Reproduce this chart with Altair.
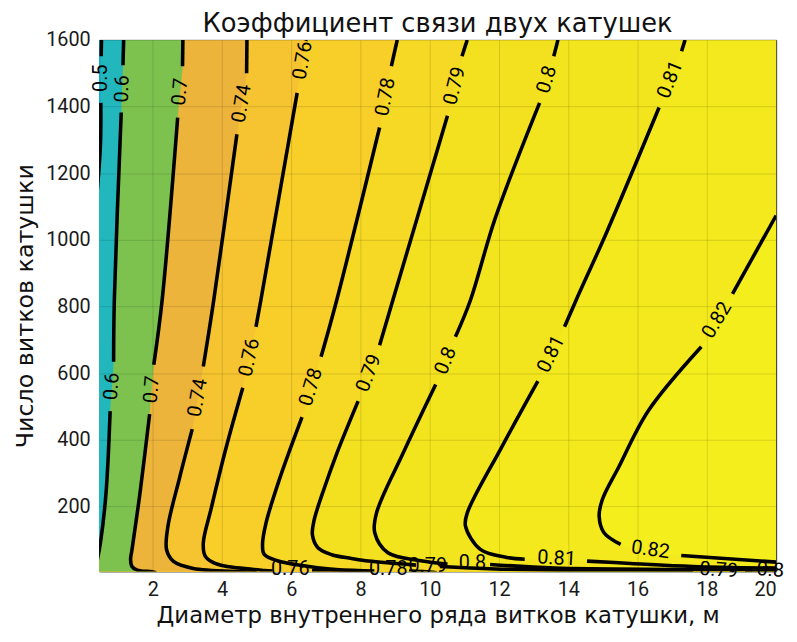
import altair as alt
import pandas as pd

# ---------------- data ----------------
TITLE = "Коэффициент связи двух катушек"
X_DOMAIN = [0.45, 20.0]
Y_DOMAIN = [5.0, 1600.0]
X_TICKS = [2, 4, 6, 8, 10, 12, 14, 16, 18, 20]
Y_TICKS = [200, 400, 600, 800, 1000, 1200, 1400, 1600]

# contour polylines, one list of segments per level (gaps = label places)
C050 = [[(0.52, 1600), (0.51, 1551)],
        [(0.50, 1411), (0.49, 1287), (0.40, 1150)]]
C060 = [[(1.16, 1600), (1.14, 1524)],
        [(1.09, 1382), (0.89, 818), (0.87, 634)],
        [(0.77, 486), (0.65, 239), (0.49, 91), (0.40, 40)]]
C070 = [[(2.87, 1600), (2.86, 1521)],
        [(2.72, 1367), (2.27, 818), (2.03, 625)],
        [(1.91, 477), (1.63, 239), (1.40, 70), (1.36, 41), (1.40, 20), (1.55, 9), (1.98, 4), (2.10, 1)]]
C074 = [[(4.72, 1600), (4.71, 1500)],
        [(4.43, 1317), (3.76, 818), (3.46, 620)],
        [(3.14, 432), (2.77, 284), (2.44, 141), (2.40, 70), (2.60, 35), (3.17, 14), (4.63, 4), (5.00, 1)]]
C076 = [[(6.43, 1600), (6.42, 1597)],
        [(6.17, 1441), (5.12, 818), (4.98, 739)],
        [(4.60, 556), (4.11, 373), (3.69, 195), (3.46, 91), (3.51, 52), (3.74, 32), (4.08, 21), (5.22, 8), (5.46, 6.5)],
        [(6.60, 7), (8.10, 5), (8.30, 1)]]
C078 = [[(9.06, 1600), (8.89, 1521)],
        [(8.55, 1337), (7.31, 818), (6.86, 649)],
        [(6.31, 468), (5.65, 279), (5.27, 150), (5.17, 86), (5.22, 56), (5.60, 37), (6.36, 22), (7.12, 12), (8.08, 7), (8.40, 6.5)],
        [(9.40, 6), (10.0, 3), (10.2, 1)]]
C079 = [[(11.08, 1600), (10.93, 1551)],
        [(10.51, 1372), (8.93, 818), (8.55, 684)],
        [(7.93, 516), (7.31, 358), (6.97, 260), (6.66, 159), (6.61, 115), (6.77, 76), (7.17, 55), (7.74, 44), (8.23, 36), (9.03, 29), (9.60, 24)],
        [(10.29, 20), (11.89, 12.5), (15.89, 6.5), (17.6, 6.5)],
        [(19.1, 6.5), (20.0, 6.5)]]
C080 = [[(13.70, 1600), (13.58, 1551)],
        [(13.17, 1411), (11.89, 1065), (11.17, 818), (10.74, 709)],
        [(10.17, 566), (9.22, 358), (8.46, 180), (8.41, 121), (8.79, 61), (9.74, 37), (10.51, 27)],
        [(11.74, 26), (13.6, 15), (17.0, 11), (19.3, 10)]]
C081 = [[(17.37, 1600), (17.27, 1566)],
        [(16.62, 1397), (15.12, 1026), (14.22, 818), (13.89, 739)],
        [(13.12, 576), (12.08, 379), (11.08, 180), (11.03, 141), (11.46, 71), (12.22, 47), (12.74, 41.5)],
        [(14.54, 36), (15.80, 29), (17.60, 20), (20.0, 15)]]
C082 = [[(20.0, 1073), (18.74, 838)],
        [(17.84, 679), (16.31, 487), (15.46, 319), (14.98, 220), (14.89, 170), (15.03, 121), (15.51, 86)],
        [(17.26, 53), (20.0, 33)]]

# where each contour enters / leaves the plot
LEVELS = [0.82, 0.81, 0.8, 0.79, 0.78, 0.76, 0.74, 0.7, 0.6, 0.5]
STARTS = ["right", "top", "top", "top", "top", "top", "top", "top", "top", "top"]
ENDS = ["right", "right", "right", "right", "bottom", "bottom", "bottom", "bottom", "left", "left"]
# colour of the band just below each level
BAND_COLORS = ["#F3E91C", "#F3E51D", "#F3E01F", "#F5D924", "#F8CE29",
               "#F6C430", "#EDB43C", "#7DC24F", "#22B6BD", "#1AA9C6"]
TOP_COLOR = "#F5EE1D"

# inline contour labels
LAB_LEVEL = [0.5, 0.6, 0.6, 0.7, 0.7, 0.74, 0.74, 0.76, 0.76, 0.76,
             0.78, 0.78, 0.78, 0.79, 0.79, 0.79, 0.79, 0.8, 0.8, 0.8, 0.8,
             0.81, 0.81, 0.81, 0.82, 0.82]
LAB_X = [0.50, 1.12, 0.82, 2.79, 1.97, 4.57, 3.30, 6.33, 4.79, 5.97,
         8.72, 6.57, 8.80, 10.72, 8.24, 9.94, 18.34, 13.38, 10.46, 11.23, 19.83,
         16.94, 13.50, 13.66, 18.29, 16.37]
LAB_Y = [1485, 1453, 560, 1444, 551, 1409, 526, 1538, 647, 13,
         1429, 558, 13, 1462, 600, 22, 9, 1481, 637, 30, 9,
         1481, 657, 44, 759, 70]
LAB_ANGLE = [270, 272, 274, 275, 275, 279, 280, 280, 282, 0,
             281, 287, 0, 284, 291, 0, 4, 287, 292, 0, 4,
             292, 296, 3, 301, 8]

CONTOURS = {0.5: C050, 0.6: C060, 0.7: C070, 0.74: C074, 0.76: C076,
            0.78: C078, 0.79: C079, 0.8: C080, 0.81: C081, 0.82: C082}

# ---------------- chart ----------------
W, H = 684, 537
# closing corners of the filled bands, just outside the plotted domain
XO_L, XO_R, YO_T, YO_B = 0.3, 20.2, 1615.0, 0.0

x_enc = alt.X("x:Q", scale=alt.Scale(domain=X_DOMAIN, nice=False, zero=False),
              axis=alt.Axis(values=X_TICKS, title="Диаметр внутреннего ряда витков катушки, м",
                            grid=True, ticks=False, tickSize=0, domain=False, zindex=1,
                            labelFont="Roboto", labelFontSize=20, labelColor="#1a1a1a",
                            labelPadding=8, titleFont="DejaVu Sans", titleFontSize=23,
                            titleFontWeight="normal", titleColor="#111",
                            titleY=52, titleBaseline="alphabetic", format="d",
                            gridColor="#000000", gridOpacity=0.13, gridWidth=1))
y_enc = alt.Y("y:Q", scale=alt.Scale(domain=Y_DOMAIN, nice=False, zero=False),
              axis=alt.Axis(values=Y_TICKS, title="Число витков катушки",
                            grid=True, ticks=False, tickSize=0, domain=False, zindex=1,
                            labelFont="Roboto", labelFontSize=20, labelColor="#1a1a1a",
                            labelPadding=9, titleFont="DejaVu Sans", titleFontSize=24,
                            titleFontWeight="normal", titleColor="#111",
                            titleX=-67, titleBaseline="alphabetic", format="d",
                            gridColor="#000000", gridOpacity=0.13, gridWidth=1))

layers = []
for lev, start, end, col in zip(LEVELS, STARTS, ENDS, BAND_COLORS):
    pts = [p for s in CONTOURS[lev] for p in s]
    path = [(XO_L, YO_T)]
    if start == "top":
        path.append((pts[0][0], YO_T))
    else:
        path += [(XO_R, YO_T), (XO_R, pts[0][1])]
    path += pts
    if end == "right":
        path += [(XO_R, pts[-1][1]), (XO_R, YO_B)]
    elif end == "bottom":
        path.append((pts[-1][0], YO_B))
    else:
        path.append((XO_L, pts[-1][1]))
    path.append((XO_L, YO_B))
    dfp = pd.DataFrame({"i": list(range(len(path))),
                        "x": [p[0] for p in path], "y": [p[1] for p in path]})
    layers.append(alt.Chart(dfp).mark_line(fill=col, strokeOpacity=0, strokeWidth=0, clip=True,
                                           interpolate="catmull-rom")
                  .encode(x=x_enc, y=y_enc, order="i:Q"))

rows = []
for lev in LEVELS:
    for k, seg in enumerate(CONTOURS[lev]):
        for j, (xv, yv) in enumerate(seg):
            rows.append({"seg": f"{lev}-{k}", "i": j, "x": xv, "y": yv})
lines_df = pd.DataFrame(rows)
layers.append(alt.Chart(lines_df).mark_line(color="black", strokeWidth=3.6, clip=True,
                                            strokeCap="butt", interpolate="catmull-rom")
              .encode(x=x_enc, y=y_enc, detail="seg:N", order="i:Q"))

lab_df = pd.DataFrame({"label": [str(v) for v in LAB_LEVEL], "x": LAB_X, "y": LAB_Y, "ang": LAB_ANGLE})
layers.append(alt.Chart(lab_df).mark_text(font="Roboto", fontSize=20, color="black",
                                          align="center", baseline="middle")
              .encode(x=x_enc, y=y_enc, text="label:N", angle=alt.Angle("ang:Q", scale=None)))

# chart title, set just above the plot frame
layers.append(alt.Chart(pd.DataFrame({"t": [TITLE]})).mark_text(
    font="DejaVu Sans", fontSize=26, color="#111", align="center", baseline="alphabetic")
    .encode(text="t:N", x=alt.value(W / 2), y=alt.value(-8)))

chart = alt.layer(*layers).properties(
    width=W, height=H,
    autosize=alt.AutoSizeParams(type="none"),
    padding={"left": 92, "top": 29, "right": 13, "bottom": 60},
).configure_view(fill=TOP_COLOR, stroke="#3a3a3a", strokeWidth=1)

chart.save("out.html", embed_options={"renderer": "svg", "actions": False})
